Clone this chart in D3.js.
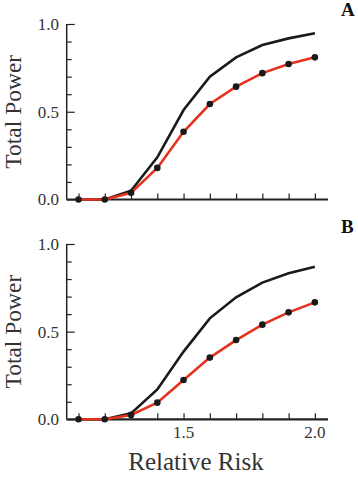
<!DOCTYPE html>
<html>
<head>
<meta charset="utf-8">
<script src="https://cdn.jsdelivr.net/npm/d3@7"></script>
<style>
  body { margin: 0; background: #fff; }
  svg { display: block; }
  svg text { font-family: "Liberation Serif", "Times New Roman", "DejaVu Serif", serif; }
</style>
</head>
<body>
<div id="chart"></div>
<script>
// Relative risk values (x)
const relativeRisk = [1.1, 1.2, 1.3, 1.4, 1.5, 1.6, 1.7, 1.8, 1.9, 2.0];

// Panel A
const powerA_black = [0, 0, 0.05, 0.24, 0.51, 0.70, 0.81, 0.88, 0.918, 0.947];
const powerA_red   = [0, 0, 0.038, 0.18, 0.386, 0.544, 0.643, 0.72, 0.772, 0.81];

// Panel B
const powerB_black = [0, 0, 0.034, 0.17, 0.386, 0.576, 0.696, 0.78, 0.833, 0.87];
const powerB_red   = [0, 0, 0.025, 0.095, 0.224, 0.352, 0.452, 0.54, 0.61, 0.667];

const yTickLabels = [0, 0.5, 1.0];
const xTickLabels = [1.5, 2.0];

const W = 358, H = 477;
const RED = "#e5321e";
const FONT = "'Liberation Serif', 'Times New Roman', serif";

const svg = d3.select("#chart").append("svg")
  .attr("width", W)
  .attr("height", H);

const x = d3.scaleLinear().domain([1.055, 2.05]).range([66.7, 328]);

const panels = [
  { label: "A", black: powerA_black, red: powerA_red, top: 24, bottom: 199.5, showX: false, labelY: 16 },
  { label: "B", black: powerB_black, red: powerB_red, top: 244, bottom: 419.3, showX: true, labelY: 233 },
];

panels.forEach((p) => {
  const y = d3.scaleLinear().domain([0, 1]).range([p.bottom, p.top]);
  const g = svg.append("g");

  // Y axis: inward minor ticks every 0.1, longer ticks at labelled values
  const yAxis = g.append("g")
    .attr("transform", `translate(${x.range()[0]},0)`)
    .call(d3.axisRight(y).tickValues(d3.range(0, 1.0001, 0.1)).tickSize(5).tickFormat(""));
  yAxis.select(".domain").attr("d", `M0,${p.bottom}V${p.top}`).attr("stroke", "#222").attr("stroke-width", 1.5);
  yAxis.selectAll(".tick line")
    .attr("stroke", "#222")
    .attr("stroke-width", 1.2)
    .attr("x2", (d) => (Math.abs(d * 2 - Math.round(d * 2)) < 1e-6 ? 8 : 5));

  g.selectAll(".ylab")
    .data(yTickLabels)
    .join("text")
    .attr("x", 59)
    .attr("y", (d) => y(d))
    .attr("dy", "0.35em")
    .attr("text-anchor", "end")
    .attr("font-family", FONT)
    .attr("font-size", 17)
    .attr("fill", "#333")
    .text((d) => d3.format(".1f")(d));

  // X axis: thick line, inward ticks
  const xAxis = g.append("g")
    .attr("transform", `translate(0,${p.bottom})`)
    .call(d3.axisTop(x).tickValues(relativeRisk).tickSize(6).tickFormat(""));
  xAxis.select(".domain").attr("d", `M${x.range()[0]},0H${x.range()[1]}`).attr("stroke", "#222").attr("stroke-width", 2.2);
  xAxis.selectAll(".tick line").attr("stroke", "#222").attr("stroke-width", 1.2);

  if (p.showX) {
    g.selectAll(".xlab")
      .data(xTickLabels)
      .join("text")
      .attr("x", (d) => x(d))
      .attr("y", p.bottom + 19)
      .attr("text-anchor", "middle")
      .attr("font-family", FONT)
      .attr("font-size", 17)
      .attr("fill", "#333")
      .text((d) => d3.format(".1f")(d));
  }

  // Y title
  g.append("text")
    .attr("transform", `translate(21,${(p.top + p.bottom) / 2}) rotate(-90)`)
    .attr("text-anchor", "middle")
    .attr("font-family", FONT)
    .attr("font-size", 23.5)
    .attr("fill", "#333")
    .text("Total Power");

  // Panel letter
  g.append("text")
    .attr("x", 341)
    .attr("y", p.labelY)
    .attr("font-family", FONT)
    .attr("font-size", 19)
    .attr("font-weight", "bold")
    .attr("fill", "#111")
    .text(p.label);

  const line = d3.line().x((d) => x(d[0])).y((d) => y(d[1]));

  g.append("path")
    .datum(relativeRisk.map((r, i) => [r, p.black[i]]))
    .attr("fill", "none")
    .attr("stroke", "#1a1a1a")
    .attr("stroke-width", 2.6)
    .attr("d", line);

  const redData = relativeRisk.map((r, i) => [r, p.red[i]]);
  g.append("path")
    .datum(redData)
    .attr("fill", "none")
    .attr("stroke", RED)
    .attr("stroke-width", 2.6)
    .attr("d", line);

  g.selectAll(".dot")
    .data(redData)
    .join("circle")
    .attr("cx", (d) => x(d[0]))
    .attr("cy", (d) => y(d[1]))
    .attr("r", 3.3)
    .attr("fill", "#1a1a1a");
});

// X title
svg.append("text")
  .attr("x", 196)
  .attr("y", 470)
  .attr("text-anchor", "middle")
  .attr("font-family", FONT)
  .attr("font-size", 25)
  .attr("fill", "#333")
  .text("Relative Risk");
</script>
</body>
</html>
